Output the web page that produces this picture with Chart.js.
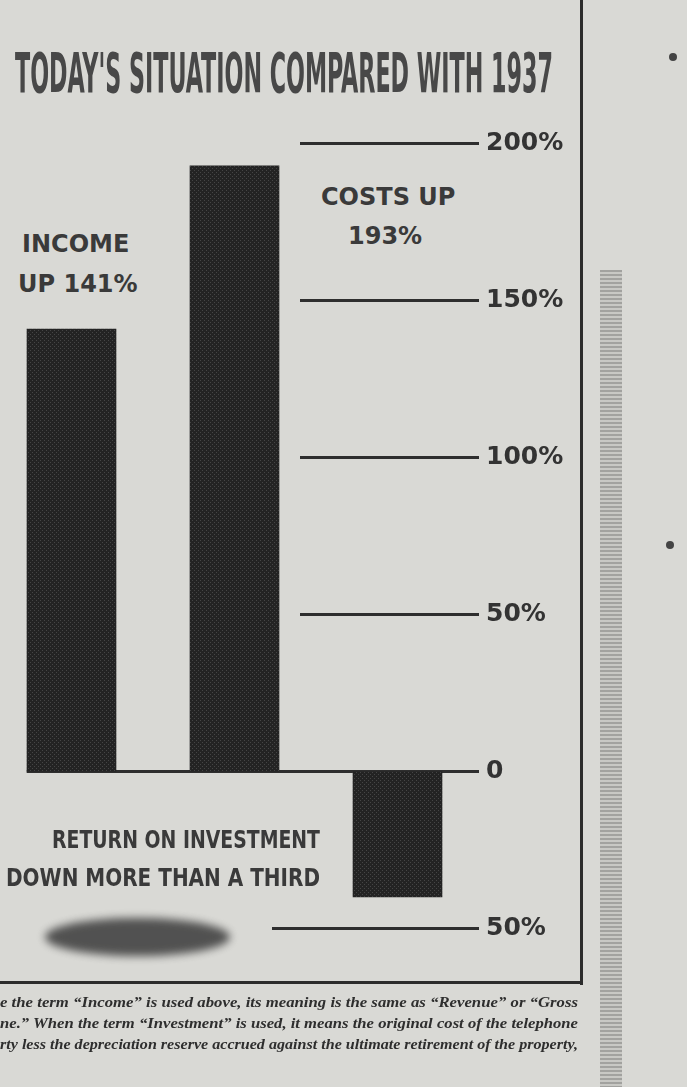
<!DOCTYPE html>
<html>
<head>
<meta charset="utf-8">
<script src="https://cdn.jsdelivr.net/npm/chart.js@4.4.0/dist/chart.umd.min.js"></script>
<style>
  html,body{margin:0;padding:0;}
  body{width:687px;height:1087px;overflow:hidden;position:relative;
       background:#d9d9d5;font-family:"DejaVu Sans",sans-serif;color:#363636;}
  .t{position:absolute;white-space:nowrap;line-height:1;}
  .fit{display:inline-block;transform-origin:0 0;}
  #title{left:15px;top:45px;font-family:"DejaVu Sans Condensed","DejaVu Sans";font-weight:bold;font-size:56px;color:#484848;}
  .ann{font-weight:bold;font-size:24px;color:#3a3a3a;}
  .cond{font-family:"DejaVu Sans Condensed","DejaVu Sans";font-weight:bold;font-size:25px;color:#3a3a3a;}
  .foot{font-family:"Liberation Serif",serif;font-style:italic;font-weight:bold;font-size:14px;color:#2e2e2e;}
  #frameR{position:absolute;left:580px;top:0;width:3px;height:985px;background:#2c2c2c;}
  #frameB{position:absolute;left:0;top:981px;width:583px;height:3px;background:#2c2c2c;}
  #edge{position:absolute;left:600px;top:270px;width:22px;height:817px;
        background:repeating-linear-gradient(180deg,#6d6d6b 0 2px,#b9b9b5 2px 4px);opacity:.5;filter:blur(.6px);}
  #smudge{position:absolute;left:45px;top:918px;width:185px;height:38px;border-radius:50%;
          background:#3a3a3a;filter:blur(4px);opacity:.85;}
  .dot{position:absolute;width:8px;height:8px;border-radius:50%;background:#444;}
  #c{position:absolute;left:-10px;top:90px;}
</style>
</head>
<body>
<div id="frameR"></div>
<div id="frameB"></div>
<div id="edge"></div>
<div class="dot" style="left:669px;top:53px"></div>
<div class="dot" style="left:666px;top:541px"></div>
<div id="smudge"></div>

<div class="t" id="title"><span class="fit" data-w="538">TODAY'S SITUATION COMPARED WITH 1937</span></div>

<div class="t ann" style="left:22px;top:232px">INCOME</div>
<div class="t ann" style="left:18px;top:272px">UP 141%</div>
<div class="t ann" style="left:321px;top:185px">COSTS UP</div>
<div class="t ann" style="left:348px;top:224px">193%</div>

<div class="t cond" style="left:52px;top:827px"><span class="fit" data-w="268">RETURN ON INVESTMENT</span></div>
<div class="t cond" style="left:6px;top:865px"><span class="fit" data-w="314">DOWN MORE THAN A THIRD</span></div>

<div class="t foot" style="left:0;top:996px"><span class="fit" data-w="578">e the term “Income” is used above, its meaning is the same as “Revenue” or “Gross</span></div>
<div class="t foot" style="left:0;top:1017px"><span class="fit" data-w="578">ne.” When the term “Investment” is used, it means the original cost of the telephone</span></div>
<div class="t foot" style="left:0;top:1038px"><span class="fit" data-w="578">rty less the depreciation reserve accrued against the ultimate retirement of the property,</span></div>

<canvas id="c" width="580" height="892"></canvas>

<script>
// ---- data ----
const categories = ["Income", "Costs", "Return on Investment"];
const changePct = [141, 193, -40];
const tickValues = [-50, 0, 50, 100, 150, 200];
const tickLabels = ["50%", "0", "50%", "100%", "150%", "200%"];

function fitAll(){
  document.querySelectorAll('.fit').forEach(el=>{
    el.style.transform='none';
    const w = el.getBoundingClientRect().width;
    const target = +el.dataset.w;
    if (w>0) el.style.transform = 'scaleX(' + (target/w) + ')';
  });
}
fitAll();

function makePattern(){
  const p = document.createElement('canvas');
  p.width = 4; p.height = 4;
  const g = p.getContext('2d');
  g.fillStyle = '#232323'; g.fillRect(0,0,4,4);
  g.fillStyle = '#454545'; g.fillRect(0,0,1,1); g.fillRect(2,2,1,1);
  return g.createPattern(p,'repeat');
}

const lineColor = '#2e2e2e';
const gridPlugin = {
  id: 'shortGrid',
  beforeDatasetsDraw(chart){
    const ctx = chart.ctx, y = chart.scales.y, area = chart.chartArea;
    const bar0 = chart.getDatasetMeta(0).data[0];
    ctx.save();
    ctx.strokeStyle = lineColor;
    ctx.lineWidth = 3;
    tickValues.forEach(v=>{
      const py = y.getPixelForValue(v);
      let x0 = 310;
      if (v === 0) x0 = bar0.x - bar0.width/2;
      if (v < 0) x0 = 282;
      ctx.beginPath();
      ctx.moveTo(x0, py);
      ctx.lineTo(area.right, py);
      ctx.stroke();
    });
    ctx.restore();
  }
};

new Chart(document.getElementById('c'), {
  type: 'bar',
  data: {
    labels: categories,
    datasets: [{
      data: changePct,
      backgroundColor: makePattern(),
      borderWidth: 0,
      categoryPercentage: 1,
      barPercentage: 0.55
    }]
  },
  options: {
    responsive: false,
    animation: false,
    devicePixelRatio: 1,
    layout: { padding: { top: 20, bottom: 20, left: 0, right: 0 } },
    plugins: { legend: { display: false }, tooltip: { enabled: false } },
    scales: {
      x: { display: false },
      y: {
        position: 'right',
        min: -60, max: 210,
        afterBuildTicks(s){ s.ticks = tickValues.map(v=>({value:v})); },
        afterFit(s){ s.width = 91; },
        grid: { display: false, drawTicks: false },
        border: { display: false },
        ticks: {
          padding: 7,
          color: '#333',
          font: { family: 'DejaVu Sans', weight: 'bold', size: 25 },
          callback(v){ const i = tickValues.indexOf(v); return i >= 0 ? tickLabels[i] : ''; }
        }
      }
    }
  },
  plugins: [gridPlugin]
});
</script>
</body>
</html>
